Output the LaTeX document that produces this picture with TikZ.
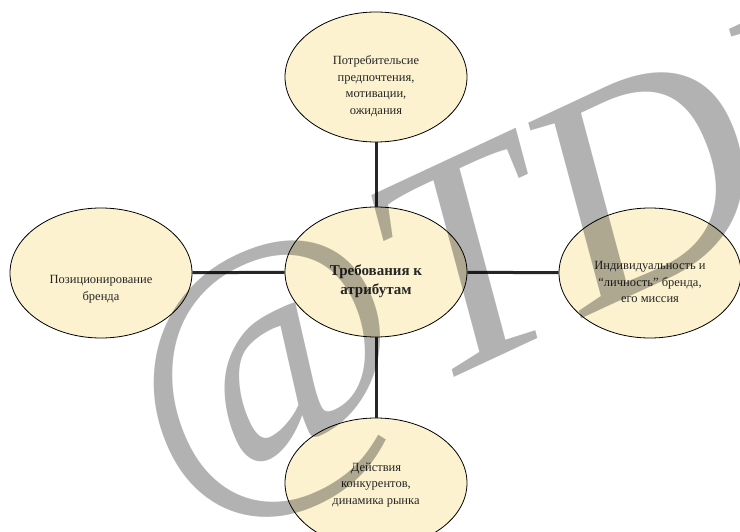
\documentclass[tikz,border=0pt]{standalone}
\usepackage{fontspec}
\setmainfont{Liberation Serif}
\usetikzlibrary{shapes.geometric}
\definecolor{paleSand}{RGB}{252,242,207}
\colorlet{linkGray}{black!85}

\begin{document}
\begin{tikzpicture}[x=1pt,y=-1pt,
    blob/.style={ellipse,draw=black,line width=0.8pt,fill=paleSand,minimum width=182pt,minimum height=130pt,inner sep=0pt},
    txt/.style={align=center,font=\fontsize{12.5}{16.5}\selectfont,text=black!85},
    link/.style={line width=3pt,draw=linkGray},
    stamp/.style={rotate=25,font=\fontsize{305}{305}\selectfont\itshape,text=black,opacity=0.3,anchor=base west}]
    \useasboundingbox (0,0) rectangle (740,532);
    \clip (0,0) rectangle (740,532);
    \node[blob] (hub) at (376,272) {};
    \node[blob] (top) at (376,77) {};
    \node[blob] (left) at (101,273) {};
    \node[blob] (right) at (650,273) {};
    \node[blob] (bottom) at (376,483) {};
    \draw[link] (hub) -- (top);
    \draw[link] (hub) -- (left);
    \draw[link] (hub) -- (right);
    \draw[link] (hub) -- (bottom);
    \node[txt,font=\fontsize{15}{19}\selectfont\bfseries] (hubtxt) at ([yshift=-9pt]hub.center) {Требования к\\атрибутам};
    \node[txt] (toptxt) at ([yshift=-9pt]top.center) {Потребительсие\\предпочтения,\\мотивации,\\ожидания};
    \node[txt] (lefttxt) at ([yshift=-16pt]left.center) {Позиционирование\\бренда};
    \node[txt] (righttxt) at ([yshift=-9pt]right.center) {Индивидуальность и\\“личность” бренда,\\его миссия};
    \node[txt] (bottomtxt) at ([yshift=-2pt]bottom.center) {Действия\\конкурентов,\\динамика рынка};
    % watermark
    \node[stamp] (wm) at (173,509) {@TDI};
\end{tikzpicture}
\end{document}
